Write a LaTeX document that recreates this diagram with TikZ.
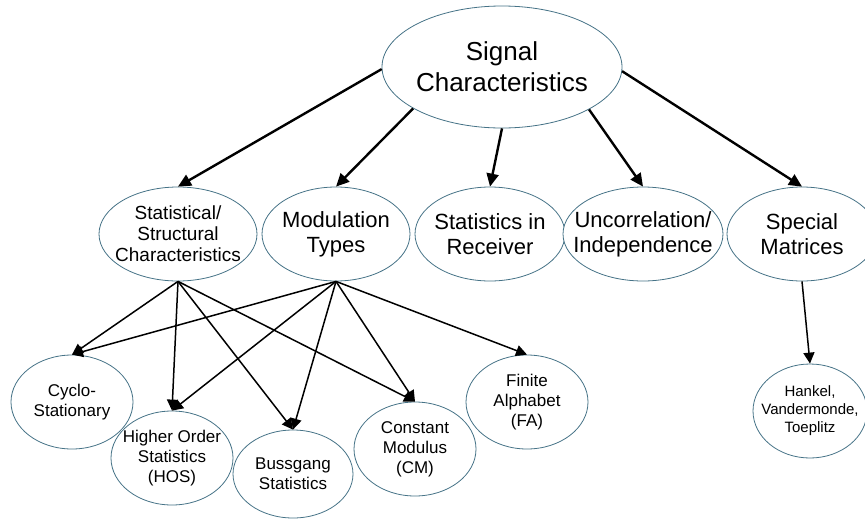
\documentclass[tikz,border=0pt]{standalone}
\usepackage{fontspec}
\setmainfont{Liberation Sans}
\usetikzlibrary{shapes.geometric,arrows.meta}
\definecolor{rim}{RGB}{70,115,135}
\begin{document}
\begin{tikzpicture} [
                x=1pt, y=-1pt,
                bubble/.style={ellipse,draw=rim,line width=0.8pt,fill=white,align=center,
                               inner xsep=-14pt,inner ysep=0pt},
                root/.style={bubble,font=\fontsize{26}{31}\selectfont},
                mid/.style={bubble,font=\fontsize{22}{25}\selectfont,minimum height=94pt},
                leaf/.style={bubble,font=\fontsize{17}{20}\selectfont,minimum height=94pt},
                top edge/.style = {draw,line width=2.4pt,-{Triangle[length=13pt,width=12pt]}},
                arrow edge/.style = {draw,line width=1.5pt,-{Triangle[length=11pt,width=11pt]}},
            ]
            \useasboundingbox (0,0) rectangle (865,520);
            % root
            \node[root,minimum width=240pt,minimum height=122pt] (sig) at (502,67) {Signal\\Characteristics};
            % second row
            \node[mid,minimum width=158pt,font=\fontsize{19}{21}\selectfont] (stat) at (178,234) {Statistical/\\Structural\\Characteristics};
            \node[mid,minimum width=148pt] (mod) at (336,234) {Modulation\\Types};
            \node[mid,minimum width=150pt] (rec) at (490,234) {Statistics in\\Receiver};
            \node[mid,minimum width=160pt] (ind) at (643,234) {Uncorrelation/\\Independence};
            \node[mid,minimum width=150pt] (spm) at (802,234) {Special\\Matrices};
            % third row
            \node[leaf,minimum width=122pt] (cyc) at (72,402) {Cyclo-\\Stationary};
            \node[leaf,minimum width=122pt] (hos) at (172,458) {Higher Order\\Statistics\\(HOS)};
            \node[leaf,minimum width=120pt,minimum height=88pt] (bus) at (293,474) {Bussgang\\Statistics};
            \node[leaf,minimum width=122pt] (cm) at (415,449) {Constant\\Modulus\\(CM)};
            \node[leaf,minimum width=122pt] (fa) at (527,402) {Finite\\Alphabet\\(FA)};
            \node[leaf,minimum width=114pt,font=\fontsize{15}{18}\selectfont] (hvt) at (810,411) {Hankel,\\Vandermonde,\\Toeplitz};
            % edges
            \foreach \ang/\dest in {
                    181/stat,205/mod,270/rec,334/ind,358/spm}
                \path[top edge] (sig.\ang) -- (\dest.north);
            \foreach \source/ \dest in {
                    stat/cyc,stat/hos,stat/bus,stat/cm,
                    mod/cyc,mod/hos,mod/bus,mod/cm,mod/fa,spm/hvt}
                \path[arrow edge] (\source.south) -- (\dest.north);
        \end{tikzpicture}
\end{document}
